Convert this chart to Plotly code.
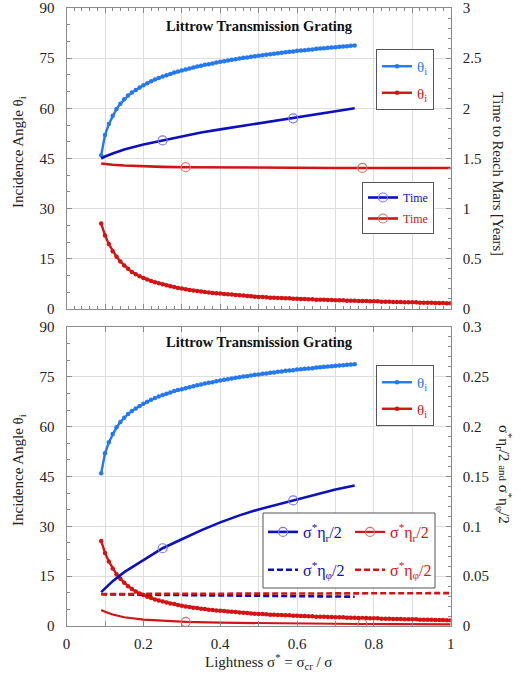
import numpy as np
import plotly.graph_objects as go

W, H = 521, 681

# ---- data -------------------------------------------------------------
# lightness grid of the two incidence-angle solutions
sig_blue = np.round(np.linspace(0.09, 0.75, 67), 2)
theta_blue = [
    46.0, 52.0, 55.3, 57.8, 59.8, 61.4, 62.7, 63.8, 64.7, 65.5,
    66.2, 66.9, 67.5, 68.1, 68.6, 69.1, 69.5, 69.9, 70.3, 70.7,
    71.0, 71.3, 71.6, 71.9, 72.2, 72.5, 72.7, 73.0, 73.2, 73.4,
    73.7, 73.9, 74.1, 74.3, 74.5, 74.7, 74.9, 75.1, 75.2, 75.4,
    75.6, 75.7, 75.9, 76.0, 76.2, 76.3, 76.5, 76.6, 76.8, 76.9,
    77.0, 77.2, 77.3, 77.4, 77.5, 77.6, 77.8, 77.9, 78.0, 78.1,
    78.2, 78.3, 78.4, 78.5, 78.6, 78.7, 78.8,
]
sig_red = np.round(np.linspace(0.09, 1.00, 92), 2)
theta_red = [
    25.6, 22.0, 19.4, 17.3, 15.6, 14.2, 13.0, 12.0, 11.1, 10.4,
    9.8, 9.3, 8.8, 8.4, 8.0, 7.7, 7.4, 7.1, 6.8, 6.6,
    6.3, 6.1, 5.9, 5.7, 5.5, 5.4, 5.2, 5.1, 4.9, 4.8,
    4.7, 4.6, 4.5, 4.4, 4.3, 4.2, 4.1, 4.0, 3.9, 3.8,
    3.7, 3.6, 3.6, 3.5, 3.4, 3.4, 3.3, 3.3, 3.2, 3.2,
    3.1, 3.1, 3.0, 3.0, 2.9, 2.9, 2.8, 2.8, 2.8, 2.7,
    2.7, 2.6, 2.6, 2.6, 2.5, 2.5, 2.5, 2.4, 2.4, 2.4,
    2.3, 2.3, 2.3, 2.2, 2.2, 2.2, 2.1, 2.1, 2.1, 2.0,
    2.0, 2.0, 2.0, 1.9, 1.9, 1.9, 1.9, 1.8, 1.8, 1.8,
    1.7, 1.7,
]

# time to reach Mars [years]
time_sig_blue = [0.09, 0.10, 0.12, 0.15, 0.20, 0.25, 0.30, 0.35, 0.40, 0.45,
                 0.50, 0.55, 0.59, 0.65, 0.70, 0.75]
time_blue = [1.50, 1.52, 1.55, 1.59, 1.64, 1.68, 1.72, 1.76, 1.79, 1.82,
             1.85, 1.88, 1.90, 1.94, 1.97, 2.00]
time_sig_red = [0.09, 0.10, 0.12, 0.15, 0.20, 0.25, 0.31, 0.40, 0.50, 0.60,
                0.70, 0.77, 0.85, 1.00]
time_red = [1.450, 1.444, 1.437, 1.430, 1.422, 1.417, 1.413, 1.410, 1.408,
            1.407, 1.406, 1.406, 1.405, 1.405]

# sigma* eta_r / 2
eta_sig_blue = [0.09, 0.10, 0.12, 0.15, 0.20, 0.25, 0.30, 0.35, 0.40, 0.45,
                0.50, 0.55, 0.59, 0.65, 0.70, 0.75]
eta_r_blue = [0.034, 0.038, 0.045, 0.054, 0.066, 0.078, 0.087, 0.096, 0.104,
              0.111, 0.117, 0.122, 0.126, 0.132, 0.137, 0.141]
eta_sig_red = [0.09, 0.10, 0.12, 0.15, 0.20, 0.25, 0.31, 0.40, 0.50, 0.60,
               0.70, 0.77, 0.85, 1.00]
eta_r_red = [0.0160, 0.0142, 0.0115, 0.0088, 0.0064, 0.0051, 0.0041, 0.0033,
             0.0028, 0.0024, 0.0022, 0.0020, 0.0019, 0.0017]

# sigma* eta_phi / 2
phi_sig_blue = [0.09, 0.30, 0.50, 0.75]
eta_phi_blue = [0.0318, 0.0310, 0.0302, 0.0294]
phi_sig_red = [0.09, 0.30, 0.50, 0.75, 1.00]
eta_phi_red = [0.0321, 0.0323, 0.0325, 0.0327, 0.0330]

# lightness values that carry an open-circle marker
circle_sig_blue = [0.25, 0.59]
circle_sig_red = [0.31, 0.77]

angle_ticks = [0, 15, 30, 45, 60, 75, 90]

# ---- style ------------------------------------------------------------
LB = "#2479f0"
DB = "#0c10bd"
RD = "#d21414"
LB_C = "#7a78e6"
RD_C = "#e36a6a"
SERIF = "Liberation Serif"
AX = "#8a8a8a"
GRID = "#dedede"


def px_x(p):
    return p / W


def px_y(p):
    return 1 - p / H


def col(text, c):
    return f"<span style='color:{c}'>{text}</span>"


def idx(xs, wanted):
    xs = [round(float(v), 2) for v in xs]
    return [xs.index(w) for w in wanted]


fig = go.Figure()

THETA = "θ<sub>i</sub>"


def theta_traces(xa, ya, leg, grp):
    fig.add_trace(go.Scatter(
        x=sig_blue, y=theta_blue, xaxis=xa, yaxis=ya, legend=leg,
        legendgroup=grp + "b", name=col(THETA, LB), mode="lines+markers",
        line=dict(color=LB, width=2.4), marker=dict(color=LB, size=4.5)))
    fig.add_trace(go.Scatter(
        x=sig_red, y=theta_red, xaxis=xa, yaxis=ya, legend=leg,
        legendgroup=grp + "r", name=col(THETA, RD), mode="lines+markers",
        line=dict(color=RD, width=2.4), marker=dict(color=RD, size=4.5)))


def circled(x, y, xa, ya, leg, grp, name, color, ccolor, marks, width=2.6):
    fig.add_trace(go.Scatter(
        x=x, y=y, xaxis=xa, yaxis=ya, legend=leg, legendgroup=grp, name=name,
        mode="lines+markers", line=dict(color=color, width=width),
        marker=dict(symbol="circle-open", size=9, color=ccolor,
                    line=dict(width=1.2, color=ccolor)),
        selectedpoints=marks,
        selected=dict(marker=dict(opacity=1)),
        unselected=dict(marker=dict(opacity=0))))


# top panel
theta_traces("x", "y", "legend", "t")
circled(time_sig_blue, time_blue, "x", "y2", "legend2", "tb", col("Time", DB),
        DB, LB_C, idx(time_sig_blue, circle_sig_blue))
circled(time_sig_red, time_red, "x", "y2", "legend2", "tr", col("Time", RD),
        RD, RD_C, idx(time_sig_red, circle_sig_red))

# bottom panel
theta_traces("x2", "y3", "legend3", "b")
ETA_R = "σ<sup>*</sup>η<sub>r</sub>/2"
ETA_P = "σ<sup>*</sup>η<sub>φ</sub>/2"
circled(eta_sig_blue, eta_r_blue, "x2", "y4", "legend4", "eb", col(ETA_R, DB),
        DB, LB_C, idx(eta_sig_blue, circle_sig_blue))
fig.add_trace(go.Scatter(
    x=phi_sig_blue, y=eta_phi_blue, xaxis="x2", yaxis="y4", legend="legend4",
    legendgroup="pb", name=col(ETA_P, DB), mode="lines",
    line=dict(color=DB, width=2.6, dash="6px,3px")))
circled(eta_sig_red, eta_r_red, "x2", "y4", "legend5", "er", col(ETA_R, RD),
        RD, RD_C, idx(eta_sig_red, circle_sig_red), width=2.2)
fig.add_trace(go.Scatter(
    x=phi_sig_red, y=eta_phi_red, xaxis="x2", yaxis="y4", legend="legend5",
    legendgroup="pr", name=col(ETA_P, RD), mode="lines",
    line=dict(color=RD, width=2.6, dash="6px,3px")))

# ---- axes -------------------------------------------------------------
XDOM = [px_x(66.6), px_x(450.7)]
TOP = [px_y(309), px_y(8)]
BOT = [px_y(626), px_y(327)]
tickfont = dict(family=SERIF, size=15, color="#222")

frame = dict(zeroline=False, showline=True, linecolor=AX, linewidth=1,
             tickcolor=AX, automargin=False, tickfont=tickfont)

fig.update_layout(
    # top lightness axis: grid every 0.1, small ticks every 0.02, no labels
    xaxis=dict(**frame, range=[0, 1], domain=XDOM, anchor="y", dtick=0.1,
               showticklabels=False, showgrid=True, gridcolor=GRID,
               ticks="inside", ticklen=5, mirror="ticks",
               minor=dict(dtick=0.02, ticks="inside", ticklen=3,
                          tickcolor=AX, showgrid=False)),
    yaxis=dict(**frame, range=[0, 90], tickvals=angle_ticks, domain=TOP,
               anchor="x", showgrid=True, gridcolor=GRID, ticks="inside",
               ticklen=5, ticklabelstandoff=8,
               minor=dict(dtick=5, ticks="inside", ticklen=3, tickcolor=AX)),
    yaxis2=dict(**frame, range=[0, 3], dtick=0.5, side="right",
                overlaying="y", anchor="x", showgrid=False, ticks="inside",
                ticklen=5, ticklabelstandoff=8,
                minor=dict(dtick=0.1, ticks="inside", ticklen=3, tickcolor=AX)),
    # bottom lightness axis: labels every 0.2, grid every 0.1
    xaxis2=dict(**frame, range=[0, 1], domain=XDOM, anchor="y3", dtick=0.2,
                showgrid=True, gridcolor=GRID, ticks="inside", ticklen=5,
                mirror="ticks", ticklabelstandoff=4,
                minor=dict(dtick=0.1, ticks="inside", ticklen=5, tickcolor=AX,
                           showgrid=True, gridcolor=GRID)),
    # fine tick marks every 0.02 on the bottom panel
    xaxis3=dict(range=[0, 1], domain=XDOM, overlaying="x2", anchor="y3",
                dtick=0.02, ticks="inside", ticklen=3, tickcolor=AX,
                showticklabels=False, showgrid=False, zeroline=False,
                showline=False, mirror="ticks", automargin=False),
    yaxis3=dict(**frame, range=[0, 90], tickvals=angle_ticks, domain=BOT,
                anchor="x2", showgrid=True, gridcolor=GRID, ticks="inside",
                ticklen=5, ticklabelstandoff=8,
                minor=dict(dtick=5, ticks="inside", ticklen=3, tickcolor=AX)),
    yaxis4=dict(**frame, range=[0, 0.3], dtick=0.05, side="right",
                overlaying="y3", anchor="x2", showgrid=False, ticks="inside",
                ticklen=5, ticklabelstandoff=8,
                minor=dict(dtick=0.01, ticks="inside", ticklen=3, tickcolor=AX)),
)

# ---- legends ----------------------------------------------------------
boxed = dict(bgcolor="white", bordercolor="#555", borderwidth=1,
             traceorder="grouped", xanchor="right", yanchor="top")
fig.update_layout(
    legend=dict(**boxed, x=px_x(434), y=px_y(49), tracegroupgap=4,
                font=dict(family=SERIF, size=15)),
    legend2=dict(**boxed, x=px_x(434), y=px_y(182), tracegroupgap=2,
                 font=dict(family=SERIF, size=12)),
    legend3=dict(**boxed, x=px_x(434), y=px_y(365), tracegroupgap=4,
                 font=dict(family=SERIF, size=15)),
    legend4=dict(bgcolor="rgba(0,0,0,0)", borderwidth=0, traceorder="grouped",
                 xanchor="left", yanchor="top", x=px_x(263), y=px_y(515),
                 tracegroupgap=14, font=dict(family=SERIF, size=16)),
    legend5=dict(bgcolor="rgba(0,0,0,0)", borderwidth=0, traceorder="grouped",
                 xanchor="left", yanchor="top", x=px_x(350), y=px_y(515),
                 tracegroupgap=14, font=dict(family=SERIF, size=16)),
)
fig.add_shape(type="rect", xref="paper", yref="paper",
              x0=px_x(263), x1=px_x(435), y0=px_y(588), y1=px_y(513),
              line=dict(color="#555", width=1), fillcolor="white", layer="above")

# ---- text -------------------------------------------------------------
ann = []
title = "<b>Littrow Transmission Grating</b>"
for yc in (26, 342):
    ann.append(dict(text=title, x=px_x(259), y=px_y(yc),
                    font=dict(family=SERIF, size=14.5, color="#111")))
for yc in (152, 470):
    ann.append(dict(text="Incidence Angle θ<sub>i</sub>", x=px_x(19), y=px_y(yc),
                    textangle=-90, font=dict(family=SERIF, size=15, color="#222")))
ann.append(dict(text="Time to Reach Mars [Years]", x=px_x(498), y=px_y(174),
                textangle=90, font=dict(family=SERIF, size=14.5, color="#222")))
ann.append(dict(text="σ<sup>*</sup>η<sub>r</sub>/2 <span style='font-size:11px'>and</span> σ<sup>*</sup>η<sub>φ</sub>/2",
                x=px_x(504), y=px_y(474), textangle=90,
                font=dict(family=SERIF, size=15, color="#222")))
ann.append(dict(text="Lightness σ<sup>*</sup> = σ<sub>cr</sub> / σ", x=px_x(268), y=px_y(662),
                font=dict(family=SERIF, size=15, color="#222")))
for a in ann:
    a.update(xref="paper", yref="paper", showarrow=False,
             xanchor="center", yanchor="middle")
fig.update_layout(annotations=ann)

fig.update_layout(width=W, height=H, autosize=False, template="none",
                  margin=dict(l=0, r=0, t=0, b=0, pad=0),
                  paper_bgcolor="white", plot_bgcolor="white", showlegend=True)

fig.write_html("out.html")
